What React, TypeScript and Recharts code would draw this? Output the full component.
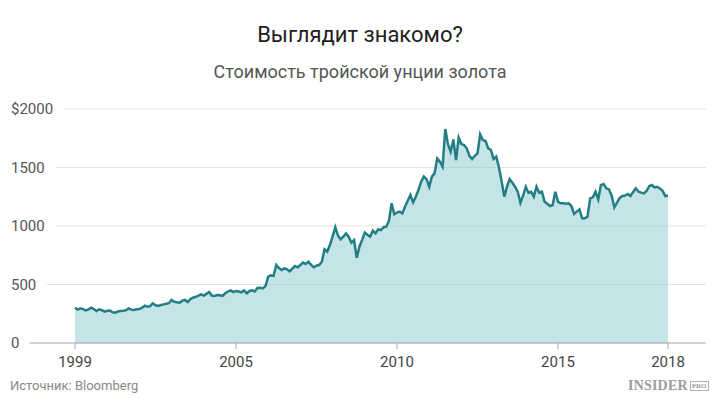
import React from 'react';
import { AreaChart, Area, XAxis, YAxis, CartesianGrid } from 'recharts';

// Monthly gold price (USD per troy ounce), index 0 = start of series
const goldPrices: number[] = [
  302, 285, 296, 290, 278, 288, 302, 290, 274, 288, 280, 268,
  275, 278, 262, 259, 270, 274, 275, 280, 296, 285, 282, 288,
  290, 302, 319, 311, 315, 339, 322, 316, 325, 330, 336, 340,
  368, 352, 348, 345, 362, 368, 350, 375, 387, 395, 405, 416,
  405, 420, 436, 405, 402, 410, 408, 402, 425, 440, 450, 435,
  445, 440, 433, 450, 425, 445, 450, 440, 470, 472, 467, 487,
  567, 578, 573, 667, 640, 624, 638, 630, 612, 635, 658, 647,
  667, 687, 675, 695, 668, 647, 660, 667, 695, 801, 781, 838,
  910, 989, 920, 886, 909, 937, 909, 858, 880, 729, 823, 880,
  943, 925, 909, 960, 937, 972, 965, 990, 994, 1043, 1194, 1100,
  1115, 1123, 1108, 1165, 1215, 1265, 1202, 1250, 1308, 1379, 1422, 1400,
  1336, 1422, 1450, 1578, 1550, 1507, 1829, 1700, 1635, 1740, 1564, 1755,
  1700, 1692, 1664, 1600, 1573, 1600, 1621, 1783, 1735, 1726, 1664, 1650,
  1573, 1593, 1500, 1380, 1251, 1336, 1400, 1370, 1336, 1293, 1199, 1260,
  1336, 1285, 1293, 1251, 1336, 1285, 1293, 1208, 1190, 1171, 1179, 1293,
  1208, 1194, 1194, 1190, 1194, 1171, 1103, 1123, 1142, 1066, 1066, 1080,
  1236, 1245, 1293, 1228, 1350, 1359, 1322, 1313, 1260, 1160, 1200, 1240,
  1256, 1260, 1274, 1256, 1290, 1322, 1293, 1285, 1279, 1300, 1340, 1350,
  1330, 1335, 1320, 1300, 1256, 1260,
];

const xTickIndex: number[] = [0, 60, 120, 180, 221];
const xTickLabels: string[] = ['1999', '2005', '2010', '2015', '2018'];
const yTicks: number[] = [0, 500, 1000, 1500, 2000];
const yTickLabels: string[] = ['0', '500', '1000', '1500', '$2000'];

const title = 'Выглядит знакомо?';
const subtitle = 'Стоимость тройской унции золота';
const source = 'Источник: Bloomberg';

const data = goldPrices.map((price, m) => ({ m, price }));

const FONT = 'Roboto, "Noto Sans", sans-serif';
const LABEL_X = 11;
const PLOT_LEFT = 75;
const PLOT_RIGHT = 668;
const GRID_RIGHT = 706;

const YTick = (props: any) => {
  const { y, payload } = props;
  const i = yTicks.indexOf(payload.value);
  const label = i >= 0 ? yTickLabels[i] : String(payload.value);
  const textW = label.length * 8.6;
  const isZero = payload.value === 0;
  const color = isZero ? '#a6a6a6' : '#e3e3e3';
  return (
    <g>
      <line x1={LABEL_X + textW + 10} x2={PLOT_LEFT} y1={y} y2={y} stroke={color} strokeWidth={1} />
      <line x1={PLOT_RIGHT} x2={GRID_RIGHT} y1={y} y2={y} stroke={color} strokeWidth={1} />
      <text x={LABEL_X} y={y} dy={5} textAnchor="start" fill="#555" fontSize={15} fontFamily={FONT}>
        {label}
      </text>
    </g>
  );
};

const xLabel = (v: number) => {
  const i = xTickIndex.indexOf(v);
  return i >= 0 ? xTickLabels[i] : '';
};

export default function App() {
  return (
    <div style={{ position: 'absolute', left: 0, top: 0, width: 720, height: 402, background: '#fff', fontFamily: FONT }}>
      <div style={{ position: 'absolute', left: 0, top: 22, width: 720, textAlign: 'center', fontSize: 22, lineHeight: '26px', fontWeight: 400, color: '#1e1e1e' }}>
        {title}
      </div>
      <div style={{ position: 'absolute', left: 0, top: 61, width: 720, textAlign: 'center', fontSize: 18, lineHeight: '22px', color: '#555' }}>
        {subtitle}
      </div>
      <AreaChart
        width={720}
        height={402}
        data={data}
        margin={{ top: 109, right: 720 - PLOT_RIGHT, bottom: 0, left: 11 }}
      >
        <CartesianGrid horizontal vertical={false} stroke="#e3e3e3" />
        <XAxis
          dataKey="m"
          type="number"
          domain={[0, 221]}
          ticks={xTickIndex}
          tickFormatter={xLabel}
          axisLine={{ stroke: '#a6a6a6' }}
          tickLine={{ stroke: '#a6a6a6' }}
          tickSize={6}
          tickMargin={7}
          tick={{ fill: '#444', fontSize: 15, fontFamily: FONT }}
          interval={0}
          height={59}
        />
        <YAxis
          type="number"
          domain={[0, 2000]}
          ticks={yTicks}
          width={PLOT_LEFT - 11}
          axisLine={false}
          tickLine={false}
          tick={<YTick />}
          interval={0}
        />
        <Area
          type="linear"
          dataKey="price"
          stroke="#237e85"
          strokeWidth={2.5}
          fill="#8ecbd3"
          fillOpacity={0.52}
          isAnimationActive={false}
          dot={false}
          activeDot={false}
        />
      </AreaChart>
      <div style={{ position: 'absolute', left: 10, top: 378, fontSize: 13, lineHeight: '16px', color: '#888' }}>
        {source}
      </div>
      <div style={{ position: 'absolute', left: 628, top: 377, height: 18, display: 'flex', alignItems: 'center', color: '#9c9c9c' }}>
        <span style={{ fontFamily: '"Liberation Serif", "DejaVu Serif", serif', fontWeight: 700, fontSize: 14, letterSpacing: 0.2 }}>INSIDER</span>
        <span style={{ marginLeft: 2, fontFamily: '"Liberation Serif", serif', fontWeight: 700, fontSize: 7, lineHeight: '8px', border: '1px solid #b0b0b0', padding: '0 1px' }}>PRO</span>
      </div>
    </div>
  );
}
